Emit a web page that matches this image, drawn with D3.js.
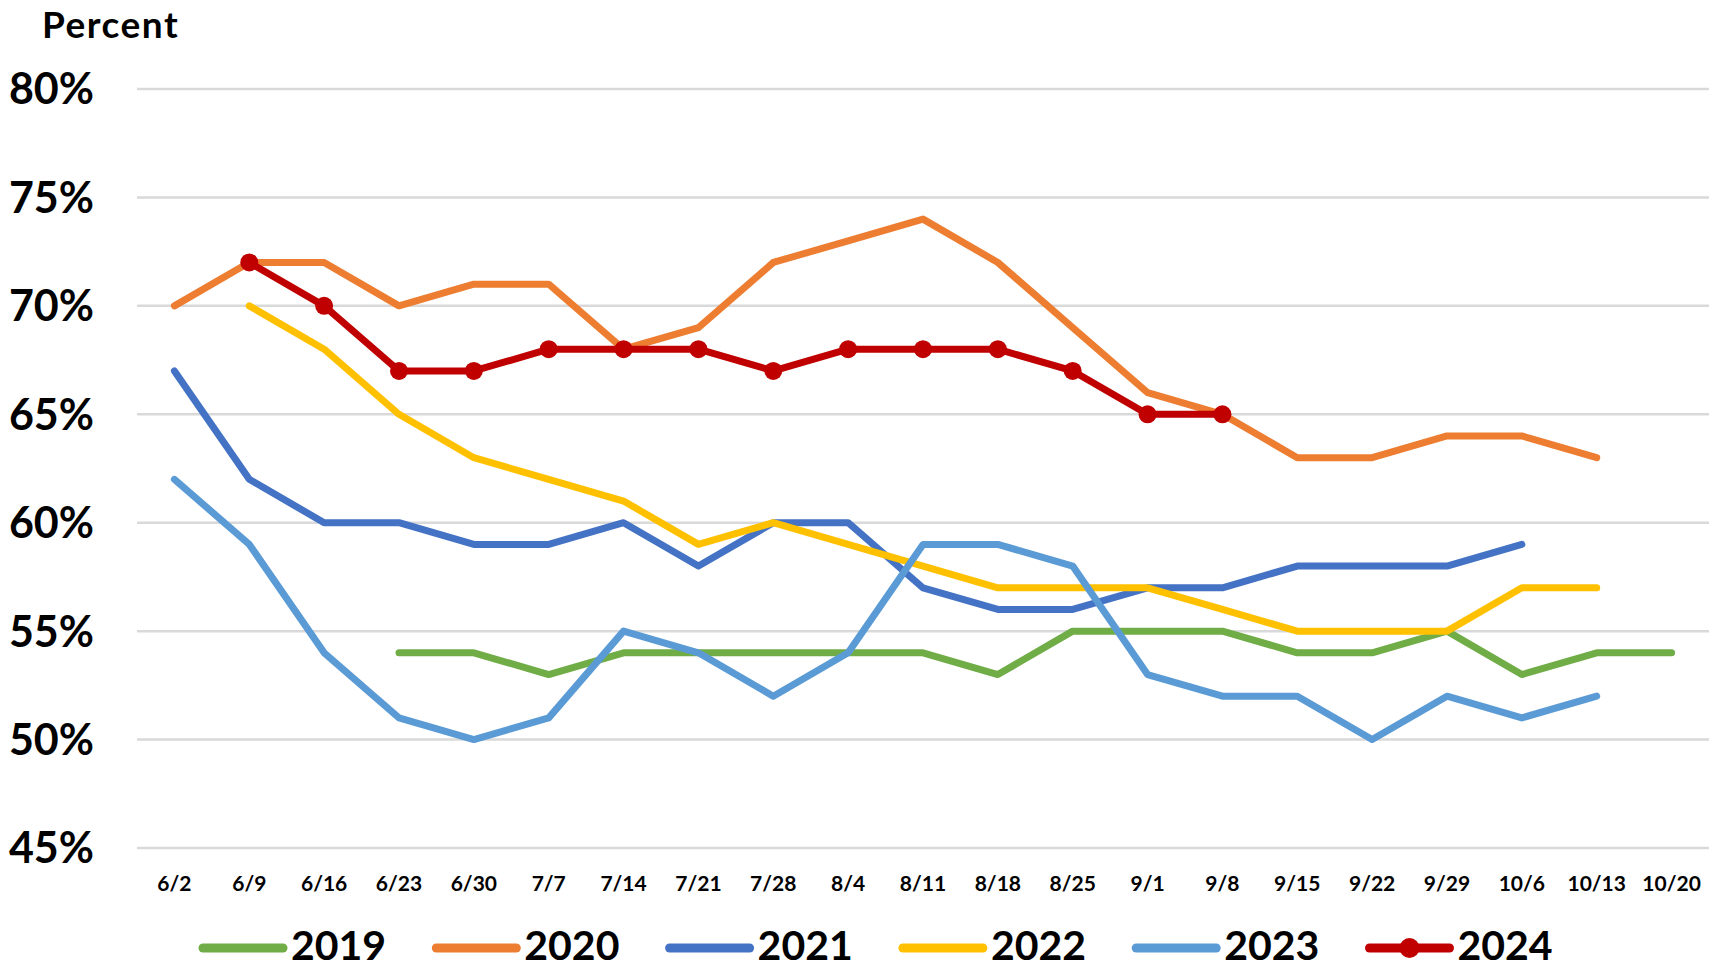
<!DOCTYPE html>
<html>
<head>
<meta charset="utf-8">
<script src="https://cdn.jsdelivr.net/npm/d3@7"></script>
<style>
  body { margin: 0; background: #fff; }
  svg text { font-family: Lato, "Open Sans", sans-serif; font-weight: bold; fill: #000; }
</style>
</head>
<body>
<svg id="chart"></svg>
<script>
const weeks = ["6/2", "6/9", "6/16", "6/23", "6/30", "7/7", "7/14", "7/21", "7/28", "8/4",
  "8/11", "8/18", "8/25", "9/1", "9/8", "9/15", "9/22", "9/29", "10/6", "10/13", "10/20"];

const y2019 = [null, null, null, 54, 54, 53, 54, 54, 54, 54, 54, 53, 55, 55, 55, 54, 54, 55, 53, 54, 54];
const y2020 = [70, 72, 72, 70, 71, 71, 68, 69, 72, 73, 74, 72, 69, 66, 65, 63, 63, 64, 64, 63, null];
const y2021 = [67, 62, 60, 60, 59, 59, 60, 58, 60, 60, 57, 56, 56, 57, 57, 58, 58, 58, 59, null, null];
const y2022 = [null, 70, 68, 65, 63, 62, 61, 59, 60, 59, 58, 57, 57, 57, 56, 55, 55, 55, 57, 57, null];
const y2023 = [62, 59, 54, 51, 50, 51, 55, 54, 52, 54, 59, 59, 58, 53, 52, 52, 50, 52, 51, 52, null];
const y2024 = [null, 72, 70, 67, 67, 68, 68, 68, 67, 68, 68, 68, 67, 65, 65, null, null, null, null, null, null];

const yTicks = [45, 50, 55, 60, 65, 70, 75, 80];

const series = [
  { name: "2019", values: y2019, color: "#70AD47" },
  { name: "2020", values: y2020, color: "#ED7D31" },
  { name: "2021", values: y2021, color: "#4472C4" },
  { name: "2022", values: y2022, color: "#FFC000" },
  { name: "2023", values: y2023, color: "#5B9BD5" },
  { name: "2024", values: y2024, color: "#C00000", marker: true }
];

const width = 1721, height = 969;
const plotLeft = 137, plotRight = 1709;

const svg = d3.select("#chart")
    .attr("width", width)
    .attr("height", height);

const x = d3.scaleBand()
    .domain(weeks)
    .range([plotLeft, plotRight]);

const y = d3.scaleLinear()
    .domain([45, 80])
    .range([848, 89]);

const cx = d => x(d) + x.bandwidth() / 2;

// gridlines
svg.append("g")
  .selectAll("line")
  .data(yTicks)
  .enter().append("line")
    .attr("x1", plotLeft)
    .attr("x2", plotRight)
    .attr("y1", d => y(d))
    .attr("y2", d => y(d))
    .attr("stroke", "#d9d9d9")
    .attr("stroke-width", 2.5);

// y labels
svg.append("g")
  .selectAll("text")
  .data(yTicks)
  .enter().append("text")
    .attr("x", 94)
    .attr("y", d => y(d))
    .attr("dy", "0.36em")
    .attr("text-anchor", "end")
    .style("font-size", "43px")
    .text(d => d + "%");

svg.append("text")
    .attr("x", 42)
    .attr("y", 38)
    .style("font-size", "37px")
    .style("letter-spacing", "1.5px")
    .text("Percent");

// x labels
svg.append("g")
  .selectAll("text")
  .data(weeks)
  .enter().append("text")
    .attr("x", d => cx(d))
    .attr("y", 891)
    .attr("text-anchor", "middle")
    .style("font-size", "21px")
    .text(d => d);

const line = d3.line()
    .defined(d => d.v != null)
    .x(d => cx(d.w))
    .y(d => y(d.v));

series.forEach(s => {
  const pts = weeks.map((w, i) => ({ w: w, v: s.values[i] }));
  svg.append("path")
      .datum(pts)
      .attr("fill", "none")
      .attr("stroke", s.color)
      .attr("stroke-width", 7)
      .attr("stroke-linecap", "round")
      .attr("stroke-linejoin", "round")
      .attr("d", line);
  if (s.marker) {
    svg.append("g")
      .selectAll("circle")
      .data(pts.filter(d => d.v != null))
      .enter().append("circle")
        .attr("cx", d => cx(d.w))
        .attr("cy", d => y(d.v))
        .attr("r", 9)
        .attr("fill", s.color);
  }
});

// legend
const legend = svg.append("g")
    .selectAll("g")
    .data(series)
  .enter().append("g")
    .attr("transform", (d, i) => `translate(${199 + i * 233.3},948)`);

legend.append("line")
    .attr("x1", 4)
    .attr("x2", 84)
    .attr("stroke", d => d.color)
    .attr("stroke-width", 9)
    .attr("stroke-linecap", "round");

legend.filter(d => d.marker).append("circle")
    .attr("cx", 44)
    .attr("r", 10)
    .attr("fill", d => d.color);

legend.append("text")
    .attr("x", 92)
    .attr("y", 12)
    .style("font-size", "41px")
    .text(d => d.name);
</script>
</body>
</html>
